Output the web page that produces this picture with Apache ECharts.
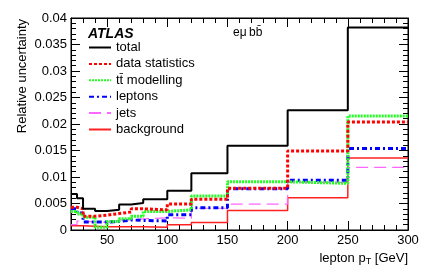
<!DOCTYPE html>
<html>
<head>
<meta charset="utf-8">
<script src="https://cdn.jsdelivr.net/npm/echarts@6/dist/echarts.min.js"></script>
<style>html,body{margin:0;padding:0;background:#fff}#c{width:425px;height:277px}</style>
</head>
<body>
<div id="c"></div>
<script>
const binEdges = [20, 25, 30, 40, 50, 60, 70, 80, 100, 120, 150, 200, 250, 300];
const total      = [0.0068, 0.0060, 0.0040, 0.0036, 0.0038, 0.0048, 0.0051, 0.0058, 0.0074, 0.0107, 0.0159, 0.0226, 0.0382];
const dataStat   = [0.0043, 0.0040, 0.0026, 0.0028, 0.0031, 0.0034, 0.0040, 0.0038, 0.0049, 0.0058, 0.0079, 0.0149, 0.0204];
const ttModel    = [0.0035, 0.0030, 0.0024, 0.0005, 0.0016, 0.0021, 0.0026, 0.0035, 0.0038, 0.0064, 0.0091, 0.0088, 0.0215];
const leptons    = [0.0040, 0.0032, 0.0015, 0.0015, 0.0016, 0.0019, 0.0018, 0.0017, 0.0029, 0.0042, 0.0078, 0.0094, 0.0154];
const jets       = [0.0010, 0.0017, 0.0015, 0.0015, 0.0015, 0.0019, 0.0021, 0.0023, 0.0022, 0.0041, 0.0049, 0.0090, 0.0118];
const background = [0.0008, 0.0008, 0.0007, 0.0006, 0.0006, 0.0006, 0.0006, 0.0005, 0.0010, 0.0014, 0.0037, 0.0061, 0.0136];
const xMajorTicks = [50, 100, 150, 200, 250, 300];
const names = ['total', 'data statistics', 'tt\u0304 modelling', 'leptons', 'jets', 'background'];

const FONT = 'Liberation Sans, Arial, Helvetica, sans-serif';
function hist(vals) {
  const d = vals.map((v, i) => [binEdges[i], v]);
  d.push([binEdges[binEdges.length - 1], vals[vals.length - 1]]);
  return d;
}
const styles = [
  {color: '#000000', width: 2, type: 'solid'},
  {color: '#ff0000', width: 3, type: [3, 2]},
  {color: '#22ff22', width: 3, type: [2, 1]},
  {color: '#0000ff', width: 3, type: [5, 3, 2, 3]},
  {color: '#ff66ff', width: 1.2, type: [12, 6]},
  {color: '#ff2020', width: 1.5, type: 'solid'}
];
const values = [total, dataStat, ttModel, leptons, jets, background];

const chart = echarts.init(document.getElementById('c'), null, {renderer: 'canvas'});
const axisLine = {show: true, onZero: false, lineStyle: {color: '#000', width: 1}};
const xBase = {type: 'value', min: 20, max: 300, gridIndex: 0, splitLine: {show: false}, axisLine: axisLine};
const yBase = {type: 'value', min: 0, max: 0.04, interval: 0.005, splitLine: {show: false}, axisLine: axisLine};

chart.setOption({
  animation: false,
  backgroundColor: '#fff',
  grid: {left: 71, right: 17, top: 18, bottom: 47, show: true, borderColor: '#000', borderWidth: 1},
  xAxis: [
    Object.assign({}, xBase, {position: 'bottom', interval: 10,
      axisTick: {inside: true, length: 5, lineStyle: {color: '#000'}},
      axisLabel: {margin: 4, color: '#000', fontSize: 13, fontFamily: FONT,
        formatter: v => (v % 50 === 0 ? String(v) : '')}}),
    Object.assign({}, xBase, {position: 'bottom', interval: 10,
      axisTick: {inside: true, length: 9, customValues: xMajorTicks, lineStyle: {color: '#000'}},
      axisLabel: {show: false}}),
    Object.assign({}, xBase, {position: 'top', interval: 10,
      axisTick: {inside: true, length: 5, lineStyle: {color: '#000'}},
      axisLabel: {show: false}}),
    Object.assign({}, xBase, {position: 'top', interval: 10,
      axisTick: {inside: true, length: 9, customValues: xMajorTicks, lineStyle: {color: '#000'}},
      axisLabel: {show: false}})
  ],
  yAxis: [
    Object.assign({}, yBase, {position: 'left',
      axisTick: {inside: true, length: 9, lineStyle: {color: '#000'}},
      minorTick: {show: true, splitNumber: 5, length: 5, lineStyle: {color: '#000'}},
      axisLabel: {margin: 4, color: '#000', fontSize: 13, fontFamily: FONT,
        formatter: v => (v === 0 ? '0' : String(+v.toFixed(3)))}}),
    Object.assign({}, yBase, {position: 'right',
      axisTick: {inside: true, length: 9, lineStyle: {color: '#000'}},
      minorTick: {show: true, splitNumber: 5, length: 5, lineStyle: {color: '#000'}},
      axisLabel: {show: false}})
  ],
  legend: {
    orient: 'vertical', left: 83, top: 36, itemWidth: 22, itemHeight: 12, itemGap: 3.4,
    itemStyle: {opacity: 0},
    textStyle: {color: '#000', fontSize: 13, fontFamily: FONT, padding: [0, 0, 0, 0]},
    data: names, selectedMode: false
  },
  series: values.map((v, i) => ({
    name: names[i], type: 'line', step: 'end', xAxisIndex: 0, yAxisIndex: 0,
    symbol: 'none', showSymbol: false, z: 10 - i,
    lineStyle: {color: styles[i].color, width: styles[i].width, type: styles[i].type},
    itemStyle: {color: styles[i].color},
    data: hist(v)
  })),
  graphic: [
    {type: 'text', left: 88, top: 27, style: {text: 'ATLAS', font: 'italic bold 14px ' + FONT, fill: '#000'}},
    {type: 'text', left: 233, top: 27, style: {text: 'e\u03bc\u2009bb\u0304', font: '12px ' + FONT, fill: '#000'}},
    {type: 'text', x: 22, y: 19, rotation: Math.PI / 2,
      style: {text: 'Relative uncertainty', font: '13px ' + FONT, fill: '#000', align: 'right', verticalAlign: 'middle'}},
    {type: 'text', x: 408, y: 258,
      style: {text: 'lepton p{s|T} [GeV]', font: '13px ' + FONT, fill: '#000', align: 'right', verticalAlign: 'middle',
        rich: {s: {fontSize: 9, fontFamily: FONT, verticalAlign: 'bottom', padding: [8, 0, 0, 0]}}}}
  ]
});
</script>
</body>
</html>
